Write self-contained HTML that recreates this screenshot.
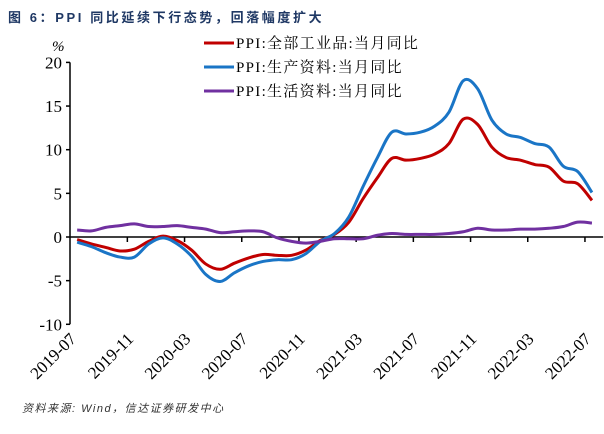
<!DOCTYPE html>
<html><head><meta charset="utf-8"><style>
body{margin:0;background:#fff;}
svg{display:block;font-family:"Liberation Serif","Noto Serif CJK SC",serif;}
</style></head><body>
<svg width="604" height="434" id="chart">
<text x="8" y="22" font-family="Liberation Sans, Noto Sans CJK SC, sans-serif" font-weight="bold" font-size="13" letter-spacing="2.6" fill="#1f3864">图 6：PPI 同比延续下行态势，回落幅度扩大</text>
<text x="52" y="51" font-size="15" font-style="italic">%</text>
<g id="axes"></g>
<g id="series"></g>
<g>
 <line x1="204" y1="43" x2="234" y2="43" stroke="#c00000" stroke-width="3"/>
 <text x="236" y="48" font-size="15" letter-spacing="1.3">PPI:全部工业品:当月同比</text>
 <line x1="204" y1="67" x2="234" y2="67" stroke="#1a75c6" stroke-width="3"/>
 <text x="236" y="72" font-size="15" letter-spacing="1.3">PPI:生产资料:当月同比</text>
 <line x1="204" y1="91" x2="234" y2="91" stroke="#7030a0" stroke-width="3"/>
 <text x="236" y="96" font-size="15" letter-spacing="1.3">PPI:生活资料:当月同比</text>
</g>
<text x="22" y="412" font-family="Liberation Sans, Noto Sans CJK SC, sans-serif" font-style="italic" font-size="11" letter-spacing="1.5" fill="#333">资料来源: Wind，信达证券研发中心</text>
</svg>
<script>
const months=["2019-07","2019-08","2019-09","2019-10","2019-11","2019-12","2020-01","2020-02","2020-03","2020-04","2020-05","2020-06","2020-07","2020-08","2020-09","2020-10","2020-11","2020-12","2021-01","2021-02","2021-03","2021-04","2021-05","2021-06","2021-07","2021-08","2021-09","2021-10","2021-11","2021-12","2022-01","2022-02","2022-03","2022-04","2022-05","2022-06","2022-07"];
const allItems=[-0.3,-0.8,-1.2,-1.6,-1.4,-0.5,0.1,-0.4,-1.5,-3.1,-3.7,-3.0,-2.4,-2.0,-2.1,-2.1,-1.5,-0.4,0.3,1.7,4.4,6.8,9.0,8.8,9.0,9.5,10.7,13.5,12.9,10.3,9.1,8.8,8.3,8.0,6.4,6.1,4.2];
const producer=[-0.6,-1.1,-1.8,-2.3,-2.3,-0.8,-0.1,-0.8,-2.2,-4.3,-5.1,-4.1,-3.3,-2.8,-2.6,-2.6,-1.9,-0.5,0.4,2.3,5.8,9.1,12.0,11.8,12.0,12.7,14.3,17.9,17.0,13.4,11.8,11.4,10.7,10.3,8.1,7.5,5.1];
const consumer=[0.8,0.7,1.1,1.3,1.5,1.2,1.2,1.3,1.1,0.9,0.5,0.6,0.7,0.6,-0.1,-0.5,-0.7,-0.5,-0.2,-0.2,-0.2,0.2,0.4,0.3,0.3,0.3,0.4,0.6,1.0,0.8,0.8,0.9,0.9,1.0,1.2,1.7,1.6];
const yTicks=[20,15,10,5,0,-5,-10];
const xTickLabels=["2019-07","2019-11","2020-03","2020-07","2020-11","2021-03","2021-07","2021-11","2022-03","2022-07"];

const NS="http://www.w3.org/2000/svg";
const X0=70,MW=14.3,Y0=237,PU=8.73;
const xs=i=>X0+(i+0.5)*MW;
const ys=v=>Y0-v*PU;
const axes=document.getElementById('axes'),ser=document.getElementById('series');
function mk(t,a,p){const e=document.createElementNS(NS,t);for(const k in a)e.setAttribute(k,a[k]);p.appendChild(e);return e;}
const yAxis=mk('line',{x1:X0,y1:ys(20),x2:X0,y2:ys(-10),stroke:'#000','stroke-width':1.5},axes);


yTicks.forEach(v=>{
 const t=mk('line',{x1:X0-4,y1:ys(v),x2:X0,y2:ys(v),stroke:'#000','stroke-width':1.5},axes);
 
 
 const l=mk('text',{x:X0-8,y:ys(v)+6,'text-anchor':'end','font-size':17},axes);
 l.textContent=v;
 
 
});
const xAxis=mk('line',{x1:X0,y1:Y0,x2:X0+months.length*MW+4,y2:Y0,stroke:'#000','stroke-width':1.5},axes);


xTickLabels.forEach(lab=>{
 const i=months.indexOf(lab);
 const tx=X0+(i+0.5)*MW-7;
 if(i>0){const t=mk('line',{x1:tx,y1:Y0,x2:tx,y2:Y0+5,stroke:'#000','stroke-width':1.5},axes);
 
 }
 const l=mk('text',{x:tx+7,y:340,'text-anchor':'end','font-size':17,transform:`rotate(-45 ${tx+7} 340)`},axes);
 l.textContent=lab;
 
 
});
function smooth(arr){
 const p=arr.map((v,i)=>[xs(i),ys(v)]);
 let d=`M${p[0][0]},${p[0][1]}`;
 for(let i=0;i<p.length-1;i++){
  const p0=p[i-1]||p[i],p1=p[i],p2=p[i+1],p3=p[i+2]||p2;
  const c1=[p1[0]+(p2[0]-p0[0])/6,p1[1]+(p2[1]-p0[1])/6];
  const c2=[p2[0]-(p3[0]-p1[0])/6,p2[1]-(p3[1]-p1[1])/6];
  d+=` C${c1[0]},${c1[1]} ${c2[0]},${c2[1]} ${p2[0]},${p2[1]}`;
 }
 return d;
}
const s1=mk('path',{d:smooth(allItems),fill:'none',stroke:'#c00000','stroke-width':3},ser);


const s2=mk('path',{d:smooth(producer),fill:'none',stroke:'#1a75c6','stroke-width':3},ser);


const s3=mk('path',{d:smooth(consumer),fill:'none',stroke:'#7030a0','stroke-width':3},ser);


</script>
</body></html>
